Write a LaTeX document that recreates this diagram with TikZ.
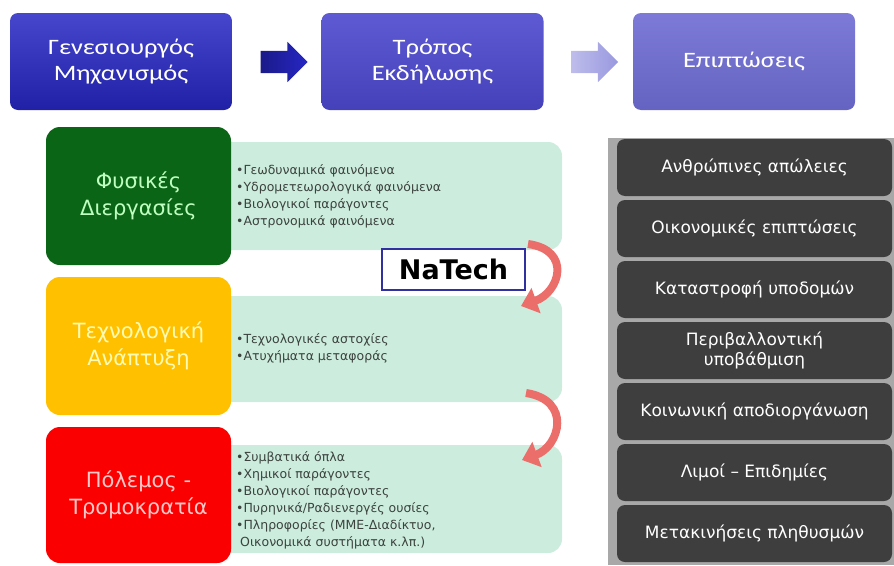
\documentclass[tikz,border=0pt]{standalone}
\usepackage{fontspec}
\setmainfont{DejaVu Sans}
\newfontfamily\topfont[FakeStretch=1.2]{Carlito}
\usetikzlibrary{shapes.arrows,arrows.meta}
\definecolor{genblue}{RGB}{38,38,196}
\definecolor{wayblue}{RGB}{76,72,206}
\definecolor{effblue}{RGB}{110,108,210}
\definecolor{natgreen}{RGB}{10,102,22}
\definecolor{tecyellow}{RGB}{255,192,0}
\definecolor{warred}{RGB}{250,0,0}
\definecolor{mint}{RGB}{204,236,222}
\definecolor{listgray}{RGB}{60,66,62}
\definecolor{stripgray}{RGB}{168,168,168}
\definecolor{effgray}{RGB}{62,62,62}
\definecolor{curvred}{RGB}{236,110,106}
\definecolor{nateline}{RGB}{48,48,160}
\tikzstyle{hbox}=[rounded corners=8pt,minimum width=222pt,minimum height=97pt,inner sep=0pt,text=white,align=center,font=\topfont\fontsize{22}{26}\selectfont]
\tikzstyle{cbox}=[rounded corners=14pt,minimum width=185pt,minimum height=138pt,inner sep=0pt,align=center,font=\fontsize{21}{27}\selectfont]
\tikzstyle{band}=[fill=mint,rounded corners=14pt,minimum width=362pt,inner sep=0pt]
\tikzstyle{blist}=[anchor=west,align=left,inner sep=0pt,text=listgray,font=\fontsize{12.5}{17}\selectfont]
\tikzstyle{ebox}=[fill=effgray,rounded corners=8pt,minimum width=275pt,minimum height=57pt,inner sep=0pt,text=white,align=center,font=\fontsize{17}{20}\selectfont]
\tikzstyle{barrow}=[single arrow,single arrow head extend=9pt,minimum height=47pt,inner xsep=0pt,inner ysep=11pt]
\tikzstyle{curvy}=[-{Triangle[width=26pt,length=16pt]},line width=8pt,draw=curvred]

\begin{document}
\begin{tikzpicture}[x=1pt,y=-1pt]
        \useasboundingbox (0,0) rectangle (894,565);
        \node[hbox,top color=genblue!85!white,bottom color=genblue!85!black] (gen) at (121,61.5) {Γενεσιουργός\\Μηχανισμός};
        \node[hbox,top color=wayblue!90!white,bottom color=wayblue!90!black] (way) at (432.5,61.5) {Τρόπος\\Εκδήλωσης};
        \node[hbox,top color=effblue!90!white,bottom color=effblue!92!black] (eff) at (744,61.5) {Επιπτώσεις};
        \node[barrow,left color=genblue!70!black,right color=genblue] (ar1) at (278.5,62) {};
        \node[barrow,left color=effblue!45!white,right color=effblue!70!white] (ar2) at (589,62) {};

        \node[band,minimum height=108pt] (band1) at (381,196) {};
        \node[band,minimum height=106pt] (band2) at (381,349) {};
        \node[band,minimum height=108pt] (band3) at (381,499) {};

        \node[cbox,fill=natgreen,text=green!25!white] (nat) at (138.5,196) {Φυσικές\\Διεργασίες};
        \node[cbox,fill=tecyellow,text=yellow!30!white] (tec) at (138.5,346) {Τεχνολογική\\Ανάπτυξη};
        \node[cbox,fill=warred,minimum height=136pt,text=red!22!white] (war) at (138.5,495) {Πόλεμος -\\Τρομοκρατία};

        \node[blist] (l1) at (236,196) {•Γεωδυναμικά φαινόμενα\\•Υδρομετεωρολογικά φαινόμενα\\•Βιολογικοί παράγοντες\\•Αστρονομικά φαινόμενα};
        \node[blist] (l2) at (236,348) {•Τεχνολογικές αστοχίες\\•Ατυχήματα μεταφοράς};
        \node[blist] (l3) at (236,500) {•Συμβατικά όπλα\\•Χημικοί παράγοντες\\•Βιολογικοί παράγοντες\\•Πυρηνικά/Ραδιενεργές ουσίες\\•Πληροφορίες (ΜΜΕ-Διαδίκτυο,\\\ Οικονομικά συστήματα κ.λπ.)};

        \node[draw=nateline,line width=1.5pt,fill=white,minimum width=143pt,minimum height=41pt,inner sep=0pt,font=\bfseries\fontsize{27}{30}\selectfont] (natech) at (453.5,269.5) {NaTech};

        \coordinate (c1s) at (528,244);
        \coordinate (c1e) at (521,306);
        \coordinate (c2s) at (526,393);
        \coordinate (c2e) at (522,460);
        \draw[curvy] (c1s) .. controls (572,250) and (560,292) .. (c1e);
        \draw[curvy] (c2s) .. controls (572,400) and (560,446) .. (c2e);

        \fill[stripgray] (608,138) rectangle (894,565);
        \node[ebox] (e1) at (754.5,167.5) {Ανθρώπινες απώλειες};
        \node[ebox] (e2) at (754.5,228.5) {Οικονομικές επιπτώσεις};
        \node[ebox] (e3) at (754.5,289.5) {Καταστροφή υποδομών};
        \node[ebox] (e4) at (754.5,350.5) {Περιβαλλοντική\\υποβάθμιση};
        \node[ebox] (e5) at (754.5,411.5) {Κοινωνική αποδιοργάνωση};
        \node[ebox] (e6) at (754.5,472.5) {Λιμοί – Επιδημίες};
        \node[ebox] (e7) at (754.5,533.5) {Μετακινήσεις πληθυσμών};
    \end{tikzpicture}
\end{document}
